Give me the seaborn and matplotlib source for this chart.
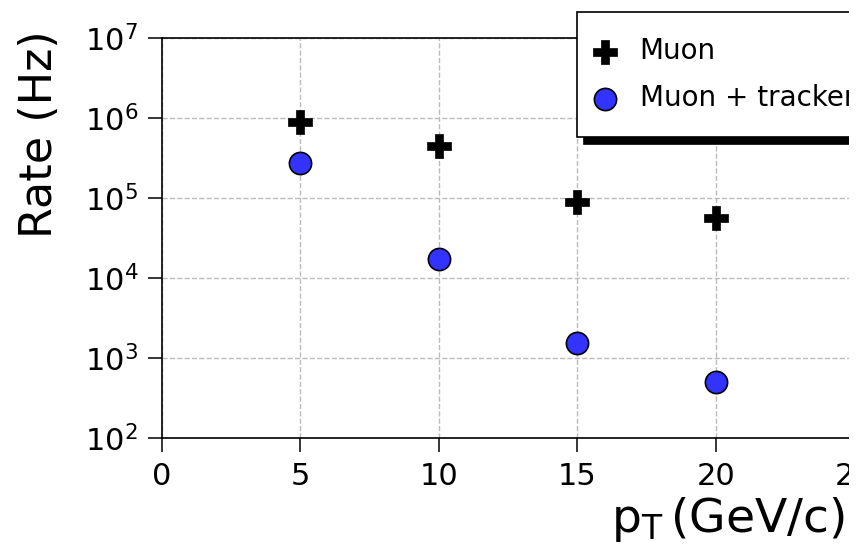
import matplotlib
matplotlib.use("Agg")
import matplotlib.pyplot as plt
import seaborn as sns
import pandas as pd
from matplotlib.ticker import NullLocator, FixedLocator
from matplotlib.patches import Rectangle

# ---- data ----
pt_values = [5, 10, 15, 20]
muon_rate = [9.0e5, 4.5e5, 9.0e4, 5.7e4]
muon_tracker_rate = [2.7e5, 1.75e4, 1.53e3, 5.0e2]
series_labels = ["Muon", "Muon + tracker"]
x_ticks = [0, 5, 10, 15, 20, 25]

sns.set_style("ticks")
plt.rcParams["font.family"] = ["DejaVu Sans"]
plt.rcParams["mathtext.default"] = "regular"
plt.rcParams.update({"text.color": "black", "axes.labelcolor": "black",
                     "xtick.color": "black", "ytick.color": "black",
                     "axes.edgecolor": "black"})

W, H = 868, 547
fig = plt.figure(figsize=(W / 100, H / 100), dpi=100)
ax_left, ax_bottom = 161.7 / W, 1 - 438 / H
ax_w, ax_h = 692.5 / W, 400 / H
ax = fig.add_axes([ax_left, ax_bottom, ax_w, ax_h])

df_m = pd.DataFrame({"pt": pt_values, "rate": muon_rate})
df_t = pd.DataFrame({"pt": pt_values, "rate": muon_tracker_rate})

sns.scatterplot(data=df_m, x="pt", y="rate", ax=ax, marker="P", s=300,
                color="black", edgecolor="black", linewidth=0.5,
                label=series_labels[0], zorder=3)
sns.scatterplot(data=df_t, x="pt", y="rate", ax=ax, marker="o", s=256,
                color="#3333FF", edgecolor="black", linewidth=1.2,
                label=series_labels[1], zorder=3)

ax.set_yscale("log")
ax.set_ylim(1e2, 1e7)
ax.set_xlim(0, 25)
ax.xaxis.set_major_locator(FixedLocator(x_ticks))
ax.yaxis.set_minor_locator(NullLocator())
ax.xaxis.set_minor_locator(NullLocator())

ax.grid(True, which="major", linestyle="--", color="#bbbbbb", linewidth=1.0)
ax.set_axisbelow(True)
for sp in ax.spines.values():
    sp.set_visible(True)
    sp.set_color("black")
    sp.set_linewidth(1.2)

ax.tick_params(axis="both", which="major", direction="out", length=10,
               width=1.1, labelsize=22, pad=7, colors="black")

ax.set_xlabel(r"$p_T\,$(GeV/c)", fontsize=34, ha="right", color="black")
ax.xaxis.set_label_coords(0.9875, -0.143)
ax.set_ylabel("Rate (Hz)", fontsize=32, color="black")
ax.yaxis.set_label_coords(-0.146, 0.76)

leg = ax.legend(loc="upper left", bbox_to_anchor=(577 / W, 1 - 12 / H),
                bbox_transform=fig.transFigure, fontsize=20, frameon=True,
                fancybox=False, framealpha=1, edgecolor="black",
                borderpad=0.9, labelspacing=0.7, handlelength=0.2,
                handletextpad=1.15, borderaxespad=0,
                shadow={"ox": 5, "oy": -5, "facecolor": "black",
                        "edgecolor": "black", "alpha": 1})
leg.get_frame().set_linewidth(1.2)
for t in leg.get_texts():
    t.set_color("black")

# reference image is cut off at the right
fig.patches.append(Rectangle((849 / W, 0), 1, 1, transform=fig.transFigure,
                             facecolor="white", edgecolor="none", zorder=1000))

fig.savefig("out.png", dpi=100)
